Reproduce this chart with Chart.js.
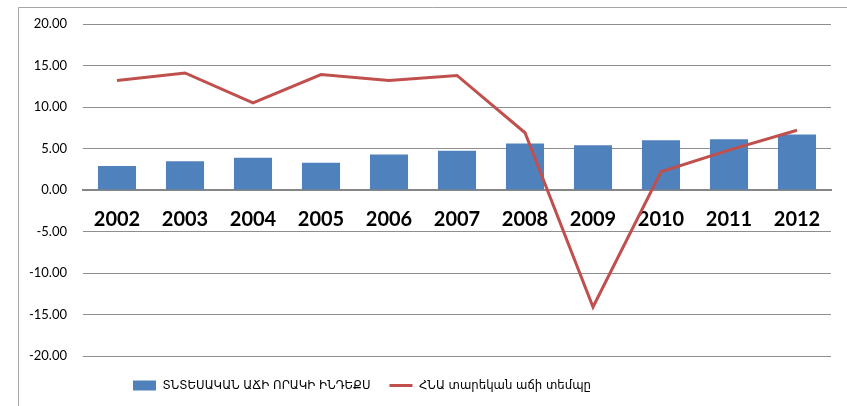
<!DOCTYPE html>
<html>
<head>
<meta charset="utf-8">
<script src="https://cdn.jsdelivr.net/npm/chart.js@4.4.1/dist/chart.umd.min.js"></script>
<style>
  html, body { margin: 0; padding: 0; background: #fff; }
  #wrap { width: 847px; height: 406px; position: relative; }
</style>
</head>
<body>
<div id="wrap"><canvas id="chart"></canvas></div>
<script>
// տարիներ
const years = ['2002', '2003', '2004', '2005', '2006', '2007', '2008', '2009', '2010', '2011', '2012'];
// ՏՆՏԵՍԱԿԱՆ ԱՃԻ ՈՐԱԿԻ ԻՆԴԵՔՍ (սյուներ)
const qualityIndex = [2.88, 3.45, 3.9, 3.29, 4.29, 4.74, 5.6, 5.4, 6.0, 6.1, 6.7];
// ՀՆԱ տարեկան աճի տեմպը (գիծ)
const gdpGrowth = [13.2, 14.1, 10.5, 13.9, 13.2, 13.8, 6.9, -14.1, 2.2, 4.8, 7.2];
const barLabel = 'ՏՆՏԵՍԱԿԱՆ ԱՃԻ ՈՐԱԿԻ ԻՆԴԵՔՍ';
const lineLabel = 'ՀՆԱ տարեկան աճի տեմպը';

// frame + legend placement, like the Excel original
const framePlugin = {
  id: 'frame',
  beforeDraw(chart) {
    const c = chart.ctx;
    c.save();
    c.fillStyle = '#fff';
    c.fillRect(0, 0, chart.width, chart.height);
    c.strokeStyle = '#a6a6a6';
    c.lineWidth = 1;
    c.beginPath();
    c.moveTo(18.5, chart.height);
    c.lineTo(18.5, 7.5);
    c.lineTo(chart.width, 7.5);
    c.stroke();
    c.restore();
  },
  afterLayout(chart) {
    const lg = chart.legend;
    const pad = lg.options.labels.padding;
    lg.left = 133 - pad;
    lg.right = lg.left + lg.width;
    lg.top = 387 - pad - 8;
    lg.bottom = lg.top + lg.height;
  }
};

new Chart(document.getElementById('chart').getContext('2d'), {
  type: 'bar',
  data: {
    labels: years,
    datasets: [{
      type: 'bar',
      label: barLabel,
      data: qualityIndex,
      backgroundColor: '#4F81BD',
      borderWidth: 0,
      barPercentage: 0.56,
      categoryPercentage: 1,
      pointStyle: 'rect',
      order: 1
    }, {
      type: 'line',
      label: lineLabel,
      data: gdpGrowth,
      borderColor: '#C0504D',
      backgroundColor: '#C0504D',
      borderWidth: 3,
      pointRadius: 0,
      pointStyle: 'line',
      tension: 0,
      order: 0
    }]
  },
  options: {
    responsive: true,
    maintainAspectRatio: false,
    animation: false,
    layout: { padding: { left: 18, right: 16, top: 24, bottom: 8 } },
    scales: {
      x: {
        position: { y: 0 },
        offset: true,
        grid: { display: false, drawTicks: false },
        border: { display: true, color: '#868686', width: 2 },
        ticks: {
          padding: 18,
          color: '#000',
          font: { family: 'Lato, "Open Sans", sans-serif', size: 20, weight: 'bold' }
        }
      },
      y: {
        min: -20,
        max: 20,
        afterFit(scale) { scale.width = 65; },
        grid: { color: '#8e8e8e', lineWidth: 1, drawTicks: false },
        border: { display: false },
        ticks: {
          stepSize: 5,
          padding: 16,
          color: '#000',
          font: { family: 'Lato, "Open Sans", sans-serif', size: 13 },
          callback: v => v.toFixed(2)
        }
      }
    },
    plugins: {
      tooltip: { enabled: false },
      legend: {
        position: 'bottom',
        align: 'start',
        labels: {
          usePointStyle: true,
          pointStyleWidth: 23,
          boxHeight: 10,
          padding: 19,
          color: '#000',
          font: { family: '"DejaVu Sans Condensed", "DejaVu Sans", sans-serif', size: 13 },
          sort: (a, b) => a.datasetIndex - b.datasetIndex
        }
      }
    }
  },
  plugins: [framePlugin]
});
</script>
</body>
</html>
